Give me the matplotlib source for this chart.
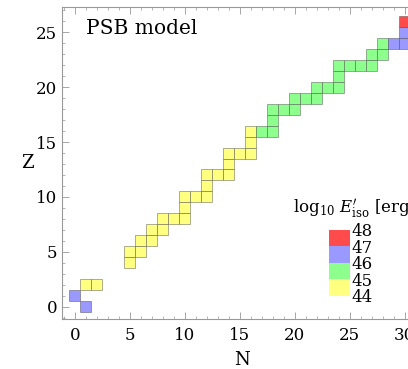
import numpy as np
import matplotlib
matplotlib.use("Agg")
import matplotlib.pyplot as plt
from matplotlib.colors import ListedColormap, BoundaryNorm

plt.rcParams['font.family'] = 'DejaVu Serif'
plt.rcParams['mathtext.fontset'] = 'dejavuserif'

# nuclide cells (N, Z) and log10 of isotropic energy per cell
cellN = [1, 0, 1, 2,
         5, 5, 6, 6, 7, 7, 8, 8, 9, 10, 10, 10, 11, 12, 12, 12, 13, 14, 14, 14, 15, 16, 16, 16,
         17, 18, 18, 18, 19, 20, 20, 21, 22, 22, 23, 24, 24, 24, 25, 26, 27, 27, 28, 28,
         29, 30, 30, 30]
cellZ = [0, 1, 2, 2,
         4, 5, 5, 6, 6, 7, 7, 8, 8, 8, 9, 10, 10, 10, 11, 12, 12, 12, 13, 14, 14, 14, 15, 16,
         16, 16, 17, 18, 18, 18, 19, 19, 19, 20, 20, 20, 21, 22, 22, 22, 22, 23, 23, 24,
         24, 24, 25, 26]
logE = [46.5, 46.5, 44.5, 44.5] + [44.5] * 24 + [45.5] * 20 + [46.5, 46.5, 46.5, 47.5]

levels = [44, 45, 46, 47, 48]
colors = ['#ffff80', '#8cff8c', '#9999ff', '#ff4b4b']

cmap = ListedColormap(colors)
norm = BoundaryNorm(levels, cmap.N)

fig = plt.figure(figsize=(4.08, 3.69), dpi=100)
ax = fig.add_axes([0.152, 0.1355, 0.88, 0.8455])

# one unit square per nuclide, centred on (N, Z)
ax.bar(cellN, 1.0, width=1.0, bottom=np.array(cellZ) - 0.5,
       color=cmap(norm(logE)), edgecolor=(0.25, 0.25, 0.25, 0.5), linewidth=0.6)

ax.set_xlim(-1.18, 31.5)
ax.set_ylim(-1.12, 27.3)
ax.set_xticks([0, 5, 10, 15, 20, 25, 30])
ax.set_yticks([0, 5, 10, 15, 20, 25])
ax.set_xticks(np.arange(-1, 32), minor=True)
ax.set_yticks(np.arange(-1, 28), minor=True)
ax.tick_params(which='both', direction='in', top=True, right=True,
               color='#999999', labelsize=12)
ax.tick_params(which='major', length=5, width=0.6)
ax.tick_params(which='minor', length=2.5, width=0.5)
ax.tick_params(axis='x', which='major', pad=6)
for s in ax.spines.values():
    s.set_color('#999999')
    s.set_linewidth(0.8)

ax.set_xlabel('N', fontsize=13, labelpad=5)
ax.set_ylabel('Z', fontsize=13, rotation=0, labelpad=6, va='center')
ax.text(1.0, 24.8, 'PSB model', fontsize=14.5)

# energy colour key
cax = fig.add_axes([0.806, 0.1987, 0.053, 0.178])
cb = fig.colorbar(plt.cm.ScalarMappable(norm=norm, cmap=cmap), cax=cax,
                  ticks=levels)
cb.outline.set_visible(False)
cax.tick_params(length=0, labelsize=12, pad=1)
fig.text(0.717, 0.422, r'log$_{10}$ $E^{\prime}_{\rm iso}$ [erg]', fontsize=12)

fig.savefig('out.png', dpi=100)
